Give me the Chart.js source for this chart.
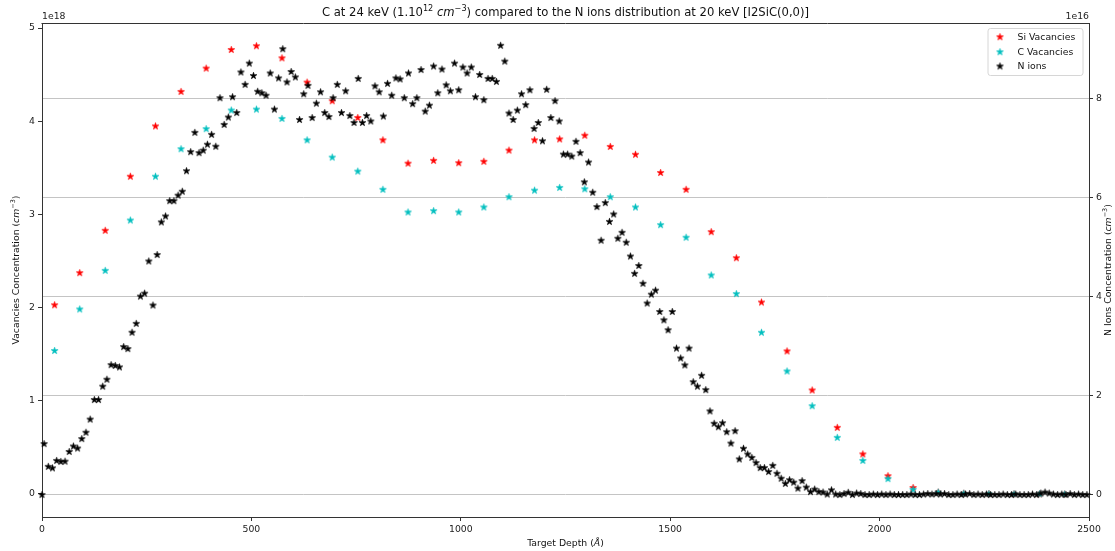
<!DOCTYPE html>
<html>
<head>
<meta charset="utf-8">
<script src="https://cdn.jsdelivr.net/npm/chart.js@4/dist/chart.umd.min.js"></script>
<style>
  html, body { margin: 0; padding: 0; background: #ffffff; }
  #wrap { width: 1115px; height: 551px; position: relative; }
</style>
</head>
<body>
<div id="wrap"><canvas id="c"></canvas></div>
<script>
// ---------------- DATA ----------------
// Vacancy profiles: depth (Angstrom) and concentration in units of 1e18 cm^-3
const vacDepth = [30, 90, 151, 211, 271, 332, 392, 452, 512, 573,
                  633, 693, 754, 814, 874, 935, 995, 1055, 1115, 1176,
                  1236, 1296, 1357, 1417, 1477, 1538, 1598, 1658, 1718, 1779,
                  1839, 1899, 1960, 2020, 2080, 2140, 2201, 2261, 2321, 2382,
                  2442];
const siVacancies = [2.03, 2.375, 2.83, 3.41, 3.95, 4.32, 4.57, 4.77, 4.81, 4.68,
                     4.42, 4.22, 4.04, 3.80, 3.55, 3.58, 3.555, 3.57, 3.69, 3.80,
                     3.81, 3.85, 3.73, 3.645, 3.45, 3.27, 2.815, 2.535, 2.06, 1.535,
                     1.116, 0.715, 0.43, 0.196, 0.07, 0.02, 0.008, 0.004, 0.002, 0.001,
                     0.0];
const cVacancies = [1.54, 1.985, 2.40, 2.94, 3.41, 3.705, 3.92, 4.12, 4.13, 4.03,
                    3.80, 3.615, 3.465, 3.27, 3.026, 3.04, 3.026, 3.08, 3.19, 3.26,
                    3.29, 3.275, 3.19, 3.08, 2.89, 2.755, 2.35, 2.15, 1.735, 1.32,
                    0.947, 0.608, 0.36, 0.165, 0.05, 0.02, 0.008, 0.005, 0.003, 0.002,
                    0.001];
// N ions profile: depth (Angstrom) and concentration in units of 1e16 cm^-3
const nDepth = [0,
  5, 15, 25, 35, 45, 55, 65, 75, 85, 95,
  105, 115, 125, 135, 145, 155, 165, 175, 185, 195,
  205, 215, 225, 235, 245, 255, 265, 275, 285, 295,
  305, 315, 325, 335, 345, 355, 365, 375, 385, 395,
  405, 415, 425, 435, 445, 455, 465, 475, 485, 495,
  505, 515, 525, 535, 545, 555, 565, 575, 585, 595,
  605, 615, 625, 635, 645, 655, 665, 675, 685, 695,
  705, 715, 725, 735, 745, 755, 765, 775, 785, 795,
  805, 815, 825, 835, 845, 855, 865, 875, 885, 895,
  905, 915, 925, 935, 945, 955, 965, 975, 985, 995,
  1005, 1015, 1025, 1035, 1045, 1055, 1065, 1075, 1085, 1095,
  1105, 1115, 1125, 1135, 1145, 1155, 1165, 1175, 1185, 1195,
  1205, 1215, 1225, 1235, 1245, 1255, 1265, 1275, 1285, 1295,
  1305, 1315, 1325, 1335, 1345, 1355, 1365, 1375, 1385, 1395,
  1405, 1415, 1425, 1435, 1445, 1455, 1465, 1475, 1485, 1495,
  1505, 1515, 1525, 1535, 1545, 1555, 1565, 1575, 1585, 1595,
  1605, 1615, 1625, 1635, 1645, 1655, 1665, 1675, 1685, 1695,
  1705, 1715, 1725, 1735, 1745, 1755, 1765, 1775, 1785, 1795,
  1805, 1815, 1825, 1835, 1845, 1855, 1865, 1875, 1885, 1895,
  1905, 1915, 1925, 1935, 1945, 1955, 1965, 1975, 1985, 1995,
  2005, 2015, 2025, 2035, 2045, 2055, 2065, 2075, 2085, 2095,
  2105, 2115, 2125, 2135, 2145, 2155, 2165, 2175, 2185, 2195,
  2205, 2215, 2225, 2235, 2245, 2255, 2265, 2275, 2285, 2295,
  2305, 2315, 2325, 2335, 2345, 2355, 2365, 2375, 2385, 2395,
  2405, 2415, 2425, 2435, 2445, 2455, 2465, 2475, 2485, 2495];
const nIons = [0,
  1.03, 0.57, 0.54, 0.69, 0.67, 0.675, 0.87, 0.98, 0.94, 1.13,
  1.26, 1.525, 1.92, 1.92, 2.19, 2.33, 2.625, 2.61, 2.58, 2.99,
  2.95, 3.28, 3.46, 4.01, 4.07, 4.72, 3.83, 4.85, 5.51, 5.63,
  5.94, 5.94, 6.05, 6.13, 6.545, 6.93, 7.32, 6.91, 6.96, 7.08,
  7.28, 7.04, 8.02, 7.48, 7.63, 8.04, 7.72, 8.54, 8.29, 8.72,
  8.47, 8.15, 8.12, 8.07, 8.52, 7.79, 8.42, 9.01, 8.34, 8.55,
  8.44, 7.58, 8.10, 8.27, 7.62, 7.91, 8.14, 7.72, 7.64, 8.02,
  8.29, 7.72, 8.16, 7.66, 7.52, 8.41, 7.52, 7.66, 7.55, 8.26,
  8.14, 7.65, 8.31, 8.07, 8.42, 8.40, 8.02, 8.52, 7.90, 8.02,
  8.59, 7.75, 7.87, 8.66, 8.12, 8.60, 8.28, 8.16, 8.72, 8.18,
  8.64, 8.52, 8.64, 8.04, 8.49, 7.98, 8.41, 8.41, 8.35, 9.08,
  8.76, 7.71, 7.58, 7.77, 8.10, 7.88, 8.18, 7.40, 7.52, 7.15,
  8.19, 7.62, 7.96, 7.55, 6.88, 6.88, 6.84, 7.14, 6.91, 6.32,
  6.72, 6.11, 5.82, 5.14, 5.90, 5.52, 5.67, 5.18, 5.30, 5.10,
  4.82, 4.47, 4.63, 4.27, 3.87, 4.05, 4.13, 3.70, 3.53, 3.33,
  3.70, 2.96, 2.76, 2.62, 2.96, 2.28, 2.19, 2.41, 2.12, 1.69,
  1.44, 1.37, 1.45, 1.27, 1.04, 1.29, 0.72, 0.935, 0.82, 0.75,
  0.645, 0.545, 0.545, 0.465, 0.59, 0.43, 0.33, 0.225, 0.30, 0.25,
  0.13, 0.28, 0.15, 0.06, 0.11, 0.06, 0.05, 0.01, 0.095, 0.01,
  0.0, 0.02, 0.045, 0.0, 0.03, 0.02, 0.0, 0.0, 0.01, 0.0,
  0.01, 0.0, 0.01, 0.0, 0.0, 0.0, 0.0, 0.01, 0.0, 0.0,
  0.01, 0.02, 0.01, 0.02, 0.01, 0.02, 0.0, 0.0, 0.01, 0.0,
  0.01, 0.02, 0.0, 0.01, 0.0, 0.01, 0.0, 0.0, 0.0, 0.01,
  0.0, 0.0, 0.01, 0.0, 0.0, 0.0, 0.01, 0.0, 0.03, 0.05,
  0.03, 0.01, 0.0, 0.01, 0.0, 0.02, 0.0, 0.01, 0.0, 0.0];

const seriesNames = ['Si Vacancies', 'C Vacancies', 'N ions'];
const xTicks = [0, 500, 1000, 1500, 2000, 2500];
const vacTicks = [0, 1, 2, 3, 4, 5];
const nTicks = [0, 2, 4, 6, 8];

// ---------------- STYLE ----------------
const FONT = 'DejaVu Sans';
const FS = 9.3;
const COLORS = ['#ff0000', '#00bfbf', '#000000'];
const AXIS = '#333333';

function starImage(color) {
  const s = 9, c = document.createElement('canvas');
  c.width = s; c.height = s;
  const g = c.getContext('2d');
  const R = 3.5, r = R * 0.382, cx = s / 2, cy = s / 2 + 0.3;
  g.beginPath();
  for (let i = 0; i < 10; i++) {
    const a = -Math.PI / 2 + i * Math.PI / 5;
    const rr = i % 2 === 0 ? R : r;
    const px = cx + rr * Math.cos(a), py = cy + rr * Math.sin(a);
    if (i === 0) g.moveTo(px, py); else g.lineTo(px, py);
  }
  g.closePath();
  g.fillStyle = color; g.fill();
  g.strokeStyle = color; g.lineWidth = 0.7; g.lineJoin = 'miter'; g.stroke();
  return c;
}
const stars = COLORS.map(starImage);

function pts(xs, ys) { return xs.map((x, i) => ({ x: x, y: ys[i] })); }

// rich text: parts [{t, sup, it}]
function richWidth(ctx, parts, size) {
  let w = 0;
  for (const p of parts) {
    const fs = p.sup ? size * 0.7 : size;
    ctx.font = (p.it ? 'italic ' : '') + fs + 'px "' + FONT + '"';
    w += ctx.measureText(p.t).width;
  }
  return w;
}
function drawRich(ctx, parts, cx, cy, size, rot, color) {
  ctx.save();
  ctx.translate(cx, cy);
  if (rot) ctx.rotate(rot);
  ctx.fillStyle = color || '#000';
  ctx.textBaseline = 'middle';
  ctx.textAlign = 'left';
  const w = richWidth(ctx, parts, size);
  let x = -w / 2;
  for (const p of parts) {
    const fs = p.sup ? size * 0.7 : size;
    ctx.font = (p.it ? 'italic ' : '') + fs + 'px "' + FONT + '"';
    ctx.fillText(p.t, x, p.sup ? -size * 0.38 : 0);
    x += ctx.measureText(p.t).width;
  }
  ctx.restore();
}

const decorPlugin = {
  id: 'decor',
  afterDraw(chart) {
    const ctx = chart.ctx, a = chart.chartArea;
    // top spine
    ctx.save();
    ctx.strokeStyle = AXIS; ctx.lineWidth = 1;
    ctx.beginPath();
    ctx.moveTo(a.left - 0.5, a.top + 0.5); ctx.lineTo(a.right + 0.5, a.top + 0.5);
    ctx.stroke();
    ctx.restore();
    const mid = (a.left + a.right) / 2;
    const vmid = (a.top + a.bottom) / 2;
    // title
    drawRich(ctx, [
      { t: 'C at 24 keV (1.10' }, { t: '12', sup: 1 }, { t: ' ' },
      { t: 'cm', it: 1 }, { t: '\u22123', sup: 1 },
      { t: ') compared to the N ions distribution at 20 keV [I2SiC(0,0)]' }
    ], mid, 13, 11.6, 0, '#111');
    // axis titles
    drawRich(ctx, [{ t: 'Target Depth (' }, { t: '\u00C5', it: 1 }, { t: ')' }],
      mid, 544, FS, 0, '#111');
    drawRich(ctx, [{ t: 'Vacancies Concentration (' }, { t: 'cm', it: 1 }, { t: '\u22123', sup: 1 }, { t: ')' }],
      17, vmid, FS, -Math.PI / 2, '#111');
    drawRich(ctx, [{ t: 'N Ions Concentration (' }, { t: 'cm', it: 1 }, { t: '\u22123', sup: 1 }, { t: ')' }],
      1109, vmid, FS, -Math.PI / 2, '#111');
    // offset texts
    ctx.save();
    ctx.fillStyle = '#222';
    ctx.font = FS + 'px "' + FONT + '"';
    ctx.textBaseline = 'middle';
    ctx.textAlign = 'left';
    ctx.fillText('1e18', a.left, 17);
    ctx.textAlign = 'right';
    ctx.fillText('1e16', a.right, 17);
    ctx.restore();
    // legend
    const lx = 988, ly = 28.5, lw = 95, lh = 47, rad = 2.5;
    ctx.save();
    ctx.beginPath();
    ctx.moveTo(lx + rad, ly);
    ctx.lineTo(lx + lw - rad, ly); ctx.quadraticCurveTo(lx + lw, ly, lx + lw, ly + rad);
    ctx.lineTo(lx + lw, ly + lh - rad); ctx.quadraticCurveTo(lx + lw, ly + lh, lx + lw - rad, ly + lh);
    ctx.lineTo(lx + rad, ly + lh); ctx.quadraticCurveTo(lx, ly + lh, lx, ly + lh - rad);
    ctx.lineTo(lx, ly + rad); ctx.quadraticCurveTo(lx, ly, lx + rad, ly);
    ctx.closePath();
    ctx.fillStyle = 'rgba(255,255,255,0.8)'; ctx.fill();
    ctx.strokeStyle = '#d6d6d6'; ctx.lineWidth = 1; ctx.stroke();
    const rows = [36.7, 51.7, 66];
    ctx.font = FS + 'px "' + FONT + '"';
    ctx.textBaseline = 'middle'; ctx.textAlign = 'left'; ctx.fillStyle = '#111';
    seriesNames.forEach((n, i) => {
      ctx.drawImage(stars[i], 1000 - 4.5, rows[i] - 4.5);
      ctx.fillText(n, 1017.5, rows[i] + 0.5);
    });
    ctx.restore();
  }
};

const tickFont = { family: FONT, size: FS };

new Chart(document.getElementById('c'), {
  type: 'scatter',
  data: {
    datasets: [
      { label: seriesNames[0], data: pts(vacDepth, siVacancies), yAxisID: 'y',
        pointStyle: stars[0], pointRadius: 3.5, order: 2, clip: false },
      { label: seriesNames[1], data: pts(vacDepth, cVacancies), yAxisID: 'y',
        pointStyle: stars[1], pointRadius: 3.5, order: 1, clip: false },
      { label: seriesNames[2], data: pts(nDepth, nIons), yAxisID: 'y2',
        pointStyle: stars[2], pointRadius: 3.5, order: 0, clip: false }
    ]
  },
  options: {
    responsive: true,
    maintainAspectRatio: false,
    animation: false,
    devicePixelRatio: 1,
    layout: { padding: { top: 23, left: 0, right: 0, bottom: 0 } },
    plugins: { legend: { display: false }, tooltip: { enabled: false }, title: { display: false } },
    scales: {
      x: {
        type: 'linear', position: 'bottom', min: 0, max: 2500,
        afterBuildTicks(s) { s.ticks = xTicks.map(v => ({ value: v })); },
        ticks: { font: tickFont, color: '#222', padding: 3, maxRotation: 0, autoSkip: false,
                 callback: v => String(v) },
        grid: { drawOnChartArea: false, tickLength: 4, color: AXIS, tickColor: AXIS },
        border: { display: true, color: AXIS, width: 1 },
        afterFit(s) { s.height = 34; }
      },
      y: {
        type: 'linear', position: 'left', min: -0.247, max: 5.054,
        afterBuildTicks(s) { s.ticks = vacTicks.map(v => ({ value: v })); },
        ticks: { font: tickFont, color: '#222', padding: 3, callback: v => String(v) },
        grid: { drawOnChartArea: false, tickLength: 4, color: AXIS, tickColor: AXIS },
        border: { display: true, color: AXIS, width: 1 },
        afterFit(s) { s.width = 42; }
      },
      y2: {
        type: 'linear', position: 'right', min: -0.454, max: 9.53,
        afterBuildTicks(s) { s.ticks = nTicks.map(v => ({ value: v })); },
        ticks: { font: tickFont, color: '#222', padding: 3, callback: v => String(v) },
        grid: { drawOnChartArea: true, tickLength: 4, color: '#c4c4c4', tickColor: AXIS, lineWidth: 1 },
        border: { display: true, color: AXIS, width: 1 },
        afterFit(s) { s.width = 26; }
      }
    }
  },
  plugins: [decorPlugin]
});
</script>
</body>
</html>
